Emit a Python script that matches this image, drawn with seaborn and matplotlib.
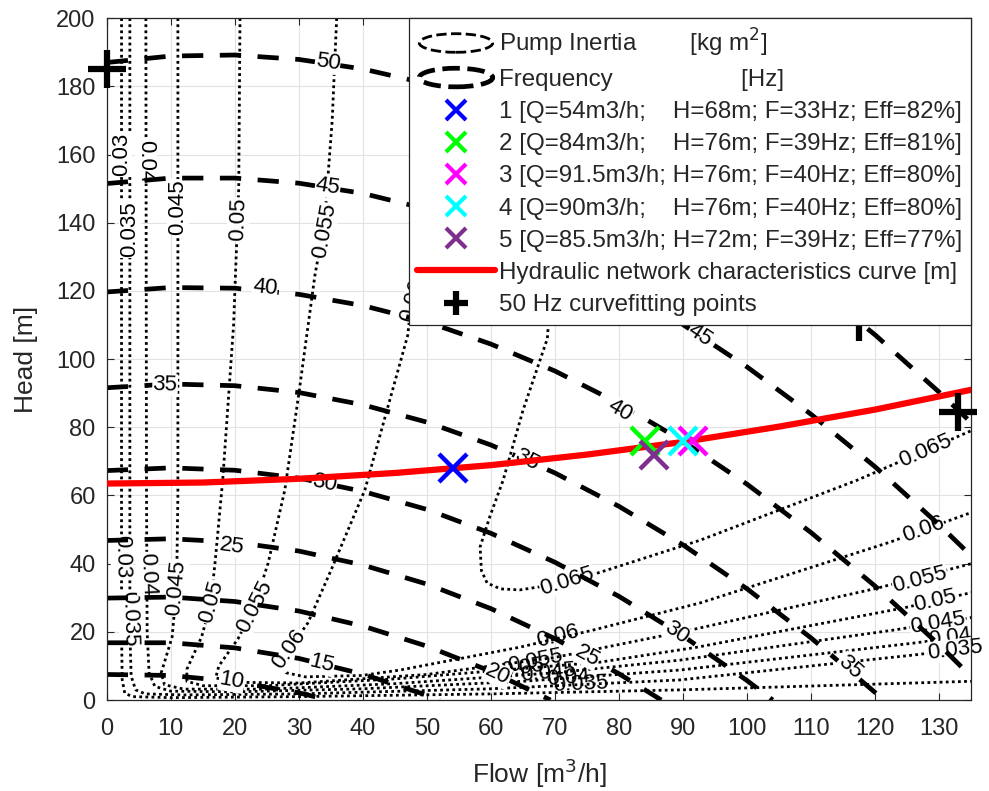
import numpy as np
import matplotlib.pyplot as plt
import seaborn as sns
from matplotlib.lines import Line2D
from matplotlib.patches import Ellipse
from matplotlib.legend_handler import HandlerBase

# frequency contours [Hz], head [m] read along flow [m3/h]
freq_levels = [50, 45, 40, 35, 30, 25, 20, 15, 10]
freq_flow = [
    [0, 10, 20, 30, 40, 50, 60, 70, 80, 90, 100, 110, 120, 130, 135],
    [0, 10, 20, 30, 40, 50, 60, 70, 80, 90, 100, 110, 120, 130, 135],
    [0, 10, 20, 30, 40, 50, 60, 70, 80, 90, 100, 110, 120, 130, 135],
    [0, 10, 20, 30, 40, 50, 60, 70, 80, 90, 100, 110, 120, 121.3],
    [0, 10, 20, 30, 40, 50, 60, 70, 80, 90, 100, 104],
    [0, 10, 20, 30, 40, 50, 60, 70, 80, 86.6],
    [0, 10, 20, 30, 40, 50, 60, 69.3],
    [0, 10, 20, 30, 40, 50, 52],
    [0, 10, 20, 30, 34.7],
]
freq_head = [
    [187.0, 188.9, 189.2, 187.9, 185.1, 180.8, 174.9, 167.5, 158.5, 148.0, 135.9, 122.2, 107.1, 90.3, 81.4],
    [151.5, 153.1, 153.1, 151.6, 148.6, 144.0, 137.8, 130.1, 120.9, 110.1, 97.7, 83.8, 68.4, 51.4, 42.3],
    [119.7, 121.0, 120.8, 119.0, 115.7, 110.9, 104.4, 96.5, 87.0, 75.9, 63.3, 49.1, 33.4, 16.2, 6.9],
    [91.6, 92.7, 92.2, 90.2, 86.6, 81.5, 74.8, 66.6, 56.8, 45.5, 32.6, 18.2, 2.2, 0.0],
    [67.3, 68.1, 67.4, 65.1, 61.2, 55.9, 48.9, 40.4, 30.4, 18.8, 5.7, 0.0],
    [46.8, 47.3, 46.3, 43.7, 39.6, 34.0, 26.8, 18.0, 7.7, 0.0],
    [29.9, 30.2, 28.9, 26.1, 21.7, 15.8, 8.4, 0.0],
    [16.8, 16.8, 15.3, 12.2, 7.6, 1.4, 0.0],
    [7.5, 7.2, 5.4, 2.1, 0.0],
]
freq_label_flow = [34.5, 34.5, 92.7, 24.7, 80.2, 9.1, 65.6, 116, 34, 89, 19.5, 75, 61, 33.6, 19.5]
freq_label_head = [186.9, 150.5, 107, 121, 85, 92.4, 70.4, 9.7, 63.7, 19.8, 45.1, 13.0, 7.5, 10.7, 5.6]
freq_label_text = ["50", "45", "45", "40", "40", "35", "35", "35", "30", "30", "25", "25", "20", "15", "10"]

# pump inertia contours [kg m2]
inertia_levels = [0.03, 0.035, 0.04, 0.045, 0.05, 0.055, 0.06, 0.065]
inertia_flow = [
    [2.3, 2.3, 2.4, 2.8, 4, 10, 30, 60, 90, 135],
    [3.6, 3.6, 3.8, 4.5, 6, 12, 30, 60, 89.5, 126, 135],
    [6.1, 6.2, 6.3, 6.6, 7.5, 10, 20, 40, 65, 89.5, 126, 135],
    [11.1, 11.1, 10.9, 10.2, 8.5, 9, 12, 25, 45, 70, 89.5, 122.8, 135],
    [20.8, 20.6, 19.8, 18.1, 16.9, 16.2, 14.8, 12.5, 12.5, 15, 25, 45, 77, 92.2, 124.4, 135],
    [35.9, 35.2, 34, 32.5, 30, 27.8, 25.2, 23, 20.5, 17.5, 17, 20, 30, 50, 70, 91.1, 120.3, 135],
    [52, 50, 47, 40.3, 35, 31.4, 28.5, 27, 28, 31, 39.8, 45.8, 64.5, 75.9, 92.7, 122.3, 135],
    [72, 70.5, 68.8, 65, 61.9, 59.8, 58.3, 58.5, 59.4, 61.5, 64.5, 72, 78.1, 92.7, 117.2, 135],
]
inertia_head = [
    [200, 20, 6, 2.0, 1.0, 0.7, 1.0, 1.8, 3.0, 5.5],
    [200, 20, 7, 3, 1.8, 1.5, 1.8, 3.3, 5.9, 13.2, 15.3],
    [200, 60, 20, 8, 4, 2.6, 2.4, 3.3, 5.5, 8.8, 16.7, 18.9],
    [200, 60, 33, 18.5, 8, 4.5, 3.2, 3.2, 4.8, 8, 11.7, 20.5, 24.2],
    [200, 150, 110, 64.5, 40.2, 28, 18.5, 9, 5.5, 4.2, 4.2, 6.2, 11.1, 15.5, 27, 31.5],
    [200, 170, 140, 124.6, 90, 61.6, 40.2, 27.3, 18, 10, 6.5, 5.2, 5.0, 7.5, 12.5, 20.5, 32.8, 40],
    [200, 160, 107, 61.6, 38, 22.6, 15, 11, 8, 6.8, 7.2, 8.8, 15.5, 20.5, 28.5, 46.3, 55],
    [200, 150, 106, 85, 64.5, 53.7, 44.9, 38, 34.3, 32.6, 32.3, 34.5, 38.1, 46.9, 64.5, 79],
]
# labels drawn with a white gap (MATLAB clabel style)
inertia_label_level = [0.03, 0.035, 0.04, 0.045, 0.05, 0.055, 0.06,
                       0.03, 0.035, 0.04, 0.045, 0.05, 0.055, 0.06, 0.065,
                       0.065, 0.06, 0.055, 0.05, 0.045, 0.04, 0.035]
inertia_label_flow = [2.3, 3.6, 6.1, 11.1, 20.5, 34, 47.8,
                      2.3, 3.6, 6.3, 10.9, 16.4, 23.1, 28.5, 71.9,
                      127.8, 127.5, 127, 129.4, 129.8, 131.7, 132.5]
inertia_label_head = [160, 138, 158, 144.6, 141, 137.6, 117,
                      42, 24, 37, 32.8, 28.7, 27.3, 15, 34.8,
                      73.1, 49.9, 35.3, 29.1, 22.6, 18.2, 14.7]
# overlapping labels in the crowded bottom fan
crowd_label_level = [0.06, 0.055, 0.05, 0.045, 0.04, 0.035]
crowd_label_flow = [70.5, 66.9, 65, 69, 72, 74]
crowd_label_head = [18.8, 11.3, 9.3, 7.9, 6.4, 4.5]

# hydraulic network curve
network_flow = [0, 15, 30, 45, 60, 75, 90, 105, 120, 135]
network_head = [63.5, 63.8, 64.9, 66.6, 68.9, 72.0, 75.7, 80.2, 85.2, 91.0]

# operating points
op_names = ["1 [Q=54m3/h;    H=68m; F=33Hz; Eff=82%]",
            "2 [Q=84m3/h;    H=76m; F=39Hz; Eff=81%]",
            "3 [Q=91.5m3/h; H=76m; F=40Hz; Eff=80%]",
            "4 [Q=90m3/h;    H=76m; F=40Hz; Eff=80%]",
            "5 [Q=85.5m3/h; H=72m; F=39Hz; Eff=77%]"]
op_flow = [54, 84, 91.5, 90, 85.5]
op_head = [68, 76, 76, 76, 72]
op_colors = ["#0000ff", "#00ff00", "#ff00ff", "#00ffff", "#7e2f8e"]

# 50 Hz curve fitting points
fit_flow = [0, 117.5, 133]
fit_head = [185, 111, 84.5]


class EllipseHandler(HandlerBase):
    def create_artists(self, legend, orig_handle, xdescent, ydescent,
                       width, height, fontsize, trans):
        e = Ellipse((width / 2 - xdescent, height / 2 - ydescent),
                    width * 0.95, height * 1.1, fill=False,
                    linestyle=orig_handle.get_linestyle(),
                    lw=orig_handle.get_linewidth(), edgecolor="black",
                    transform=trans)
        return [e]


def put_label(ax, text, q, h, qs, hs, fs, bg=True, z=3):
    # rotate the text along the contour segment nearest to (q, h)
    pts = ax.transData.transform(np.column_stack([qs, hs]))
    p = ax.transData.transform((q, h))
    i = int(np.argmin(np.hypot(*(pts - p).T)))
    i = min(i, len(pts) - 2)
    dx, dy = pts[i + 1] - pts[i]
    ang = np.degrees(np.arctan2(dy, dx))
    if ang > 90:
        ang -= 180
    if ang <= -90:
        ang += 180
    box = dict(fc="white", ec="none", pad=0.3) if bg else None
    ax.text(q, h, text, rotation=ang, rotation_mode="anchor", ha="center",
            va="center", fontsize=fs, color="black", bbox=box, zorder=z)


sns.set_theme(style="whitegrid")
plt.rcParams['font.family'] = ['Liberation Sans', 'DejaVu Sans']

fig = plt.figure(figsize=(9.89, 7.91), dpi=100)
ax = fig.add_axes([0.108, 0.115, 0.874, 0.862])
ax.set_xlim(0, 135)
ax.set_ylim(0, 200)

for q, h in zip(inertia_flow, inertia_head):
    sns.lineplot(x=q, y=h, sort=False, estimator=None, color="black",
                 lw=2.0, linestyle=(0, (1, 1.2)), ax=ax, zorder=2)
for q, h in zip(freq_flow, freq_head):
    sns.lineplot(x=q, y=h, sort=False, estimator=None, color="black",
                 lw=3.4, linestyle=(0, (4.5, 3.5)), ax=ax, zorder=2.5)

for lvl, q, h in zip(inertia_label_level, inertia_label_flow,
                     inertia_label_head):
    k = inertia_levels.index(lvl)
    put_label(ax, f"{lvl:g}", q, h, inertia_flow[k], inertia_head[k], 16,
              z=2.2)
for lvl, q, h in zip(crowd_label_level, crowd_label_flow, crowd_label_head):
    k = inertia_levels.index(lvl)
    put_label(ax, f"{lvl:g}", q, h, inertia_flow[k], inertia_head[k], 16,
              bg=False, z=2.2)
for t, q, h in zip(freq_label_text, freq_label_flow, freq_label_head):
    k = freq_levels.index(int(t))
    put_label(ax, t, q, h, freq_flow[k], freq_head[k], 16, z=2.7)

sns.lineplot(x=network_flow, y=network_head, estimator=None, color="red",
             lw=4.5, ax=ax, zorder=4)
for q, h, col in zip(op_flow, op_head, op_colors):
    ax.plot(q, h, marker="x", ms=20, mew=3.2, color=col, ls="none",
            zorder=5)
ax.plot(fit_flow, fit_head, marker="+", ms=28, mew=4.5, color="black",
        ls="none", zorder=6, clip_on=False)

ax.set_xticks(np.arange(0, 131, 10))
ax.set_yticks(np.arange(0, 201, 20))
ax.tick_params(labelsize=17, colors="#262626", direction="in", length=5,
               width=0.8, bottom=True, left=True, top=True, right=True,
               labeltop=False, labelright=False)
ax.tick_params(axis="x", pad=13)
ax.tick_params(axis="y", pad=8)
ax.grid(True, color="#e2e2e2", lw=0.8)
ax.set_facecolor("white")
for s in ax.spines.values():
    s.set_visible(True)
    s.set_color("#262626")
    s.set_linewidth(0.9)
ax.set_xlabel("Flow [m$^3$/h]", fontsize=19, color="#262626", labelpad=12)
ax.set_ylabel("Head [m]", fontsize=19, color="#262626", labelpad=13)

handles = [Line2D([], [], color="black", lw=2, linestyle=(0, (1, 1.2))),
           Line2D([], [], color="black", lw=3.4, linestyle=(0, (3, 2)))]
labels = ["Pump Inertia        [kg m$^2$]",
          "Frequency                   [Hz]"]
for name, col in zip(op_names, op_colors):
    handles.append(Line2D([], [], marker="x", ms=14, mew=3, color=col,
                          ls="none"))
    labels.append(name)
handles.append(Line2D([], [], color="red", lw=4.5))
labels.append("Hydraulic network characteristics curve [m]")
handles.append(Line2D([], [], marker="+", ms=17, mew=4.5, color="black",
                      ls="none"))
labels.append("50 Hz curvefitting points")
leg = ax.legend(handles, labels, loc="upper right", bbox_to_anchor=(1, 1),
                borderaxespad=0, fontsize=17.4, fancybox=False,
                edgecolor="#262626", framealpha=1, handlelength=3.2,
                handletextpad=0.2, labelspacing=0.42, borderpad=0.35,
                handler_map={handles[0]: EllipseHandler(),
                             handles[1]: EllipseHandler()})
leg.get_frame().set_linewidth(0.9)
leg.set_zorder(10)

fig.savefig("out.png", dpi=100)
